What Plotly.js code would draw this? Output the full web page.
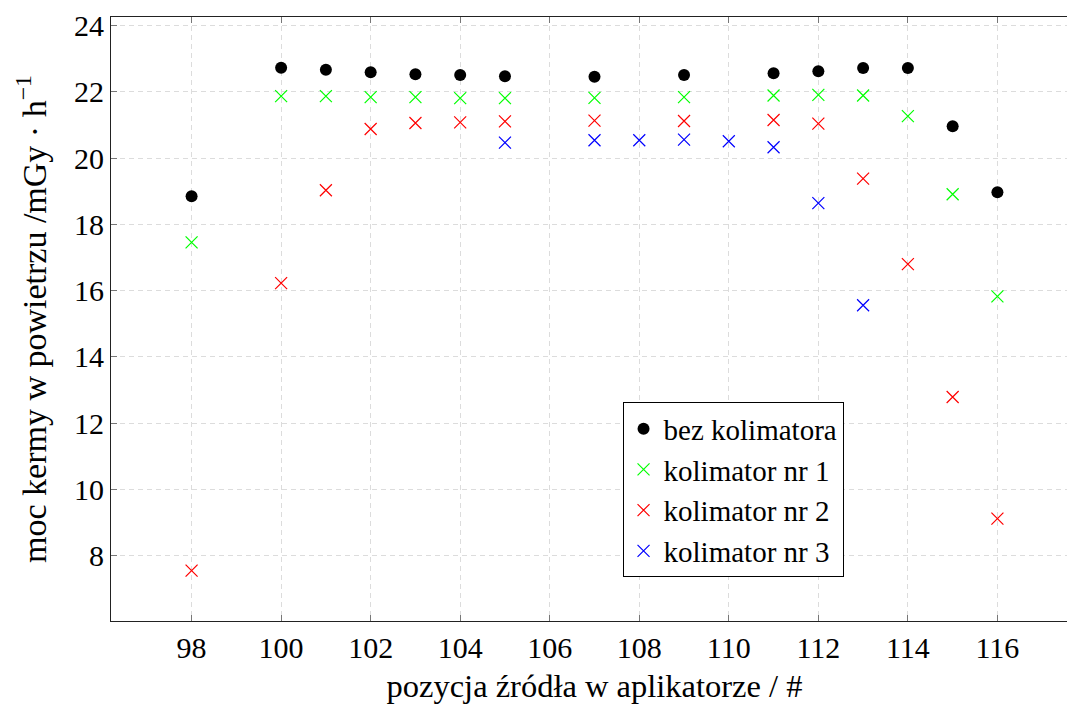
<!DOCTYPE html>
<html>
<head>
<meta charset="utf-8">
<script src="https://cdn.plot.ly/plotly-3.0.1.min.js"></script>
<style>
html,body{margin:0;padding:0;overflow:hidden;background:#fff;}
#chart{width:1090px;height:704px;}
</style>
</head>
<body>
<div id="chart"></div>
<script>
// Data
const xBez = [98, 100, 101, 102, 103, 104, 105, 107, 109, 111, 112, 113, 114, 115, 116];
const yBez = [18.85, 22.73, 22.67, 22.59, 22.53, 22.51, 22.47, 22.46, 22.51, 22.56, 22.62, 22.72, 22.72, 20.96, 18.97];

const xKol1 = [98, 100, 101, 102, 103, 104, 105, 107, 109, 111, 112, 113, 114, 115, 116];
const yKol1 = [17.46, 21.87, 21.87, 21.84, 21.84, 21.81, 21.81, 21.82, 21.84, 21.89, 21.91, 21.89, 21.27, 18.91, 15.83];

const xKol2 = [98, 100, 101, 102, 103, 104, 105, 107, 109, 111, 112, 113, 114, 115, 116];
const yKol2 = [7.55, 16.23, 19.03, 20.88, 21.06, 21.08, 21.11, 21.13, 21.12, 21.15, 21.04, 19.38, 16.80, 12.79, 9.12];

const xKol3 = [105, 107, 108, 109, 110, 111, 112, 113];
const yKol3 = [20.47, 20.54, 20.54, 20.56, 20.51, 20.33, 18.64, 15.56];

const seriesNames = ['bez kolimatora', 'kolimator nr 1', 'kolimator nr 2', 'kolimator nr 3'];
const xTitle = 'pozycja źródła w aplikatorze / #';
const yTitle = 'moc kermy w powietrzu /mGy · h<sup>−1</sup>';

const FONT = 'Liberation Serif';

function cross(x, y, name, color) {
  return {
    x: x, y: y, name: name, type: 'scatter', mode: 'markers',
    marker: {symbol: 'x-thin-open', size: 12, color: color, line: {color: color, width: 1.2}}
  };
}

const traces = [
  {x: xBez, y: yBez, name: seriesNames[0], type: 'scatter', mode: 'markers',
   marker: {symbol: 'circle', size: 12, color: '#000'}},
  cross(xKol1, yKol1, seriesNames[1], '#00ff00'),
  cross(xKol2, yKol2, seriesNames[2], '#ff0000'),
  cross(xKol3, yKol3, seriesNames[3], '#0000ff')
];

function axisCommon() {
  return {
    showline: true, linecolor: '#222', linewidth: 1, mirror: 'ticks',
    ticks: 'inside', ticklen: 6, tickcolor: '#777', tickwidth: 1,
    showgrid: true, gridcolor: '#dcdcdc', griddash: '5px,4px', gridwidth: 1,
    zeroline: false,
    tickfont: {family: FONT, size: 30, color: '#000'}
  };
}

const layout = {
  width: 1090, height: 704,
  margin: {l: 111, r: 11.5, t: 17, b: 83},
  paper_bgcolor: '#fff', plot_bgcolor: '#fff',
  font: {family: FONT, size: 30, color: '#000'},
  showlegend: true,
  legend: {
    x: 0.529, y: 0.362, xanchor: 'left', yanchor: 'top',
    bordercolor: '#000', borderwidth: 1, bgcolor: '#fff',
    font: {family: FONT, size: 29, color: '#000'},
    itemwidth: 30, tracegroupgap: 0
  },
  xaxis: Object.assign(axisCommon(), {
    range: [96.2, 117.8], tick0: 98, dtick: 2,
    title: {text: xTitle, font: {family: FONT, size: 32.5, color: '#000'}, standoff: 14}
  }),
  yaxis: Object.assign(axisCommon(), {
    range: [6.03, 24.26], tick0: 8, dtick: 2,
    title: {text: yTitle, font: {family: FONT, size: 34, color: '#000'}, standoff: 17}
  })
};

Plotly.newPlot('chart', traces, layout, {staticPlot: true, displayModeBar: false});
</script>
</body>
</html>
